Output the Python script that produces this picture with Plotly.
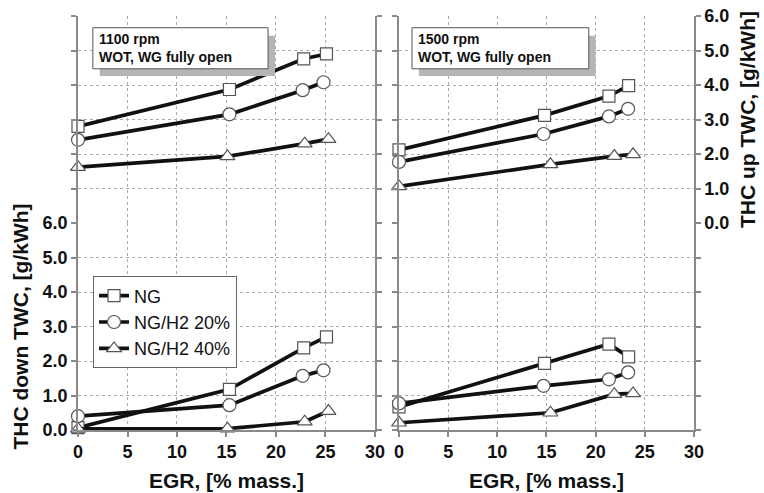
import plotly.graph_objects as go

# EGR rate [% mass.] per operating point and fuel
egr_1100_ng = [0, 15.3, 22.8, 25.1]
egr_1100_h2_20 = [0, 15.3, 22.7, 24.8]
egr_1100_h2_40 = [0, 15.1, 22.9, 25.3]
egr_1500_ng = [0, 14.8, 21.35, 23.35]
egr_1500_h2_20 = [0, 14.7, 21.35, 23.3]
egr_1500_h2_40 = [0, 15.4, 21.9, 23.8]

# THC upstream of the TWC [g/kWh]
thc_up_1100_ng = [2.8, 3.87, 4.76, 4.9]
thc_up_1100_h2_20 = [2.41, 3.15, 3.85, 4.08]
thc_up_1100_h2_40 = [1.62, 1.93, 2.3, 2.43]
thc_up_1500_ng = [2.12, 3.12, 3.68, 3.98]
thc_up_1500_h2_20 = [1.77, 2.58, 3.09, 3.31]
thc_up_1500_h2_40 = [1.06, 1.7, 1.94, 1.99]

# THC downstream of the TWC [g/kWh]
thc_down_1100_ng = [0.07, 1.18, 2.38, 2.7]
thc_down_1100_h2_20 = [0.4, 0.72, 1.57, 1.73]
thc_down_1100_h2_40 = [0.03, 0.04, 0.24, 0.55]
thc_down_1500_ng = [0.67, 1.93, 2.49, 2.12]
thc_down_1500_h2_20 = [0.77, 1.28, 1.47, 1.67]
thc_down_1500_h2_40 = [0.21, 0.5, 1.04, 1.06]

fuel_names = ["NG", "NG/H2 20%", "NG/H2 40%"]
x_ticks = [0, 5, 10, 15, 20, 25, 30]
y_ticks = [0, 1, 2, 3, 4, 5, 6]
panel_titles = ["1100 rpm<br>WOT, WG fully open", "1500 rpm<br>WOT, WG fully open"]

FONT = "Arial, Liberation Sans, sans-serif"
symbols = ["square", "circle", "triangle-up"]
sizes = [12, 13, 13]

panels = [
    # (xaxis id, yaxis id, egr lists, thc lists, show legend)
    ("x3", "y3", [egr_1100_ng, egr_1100_h2_20, egr_1100_h2_40],
     [thc_up_1100_ng, thc_up_1100_h2_20, thc_up_1100_h2_40], False),
    ("x4", "y4", [egr_1500_ng, egr_1500_h2_20, egr_1500_h2_40],
     [thc_up_1500_ng, thc_up_1500_h2_20, thc_up_1500_h2_40], False),
    ("x", "y", [egr_1100_ng, egr_1100_h2_20, egr_1100_h2_40],
     [thc_down_1100_ng, thc_down_1100_h2_20, thc_down_1100_h2_40], True),
    ("x2", "y2", [egr_1500_ng, egr_1500_h2_20, egr_1500_h2_40],
     [thc_down_1500_ng, thc_down_1500_h2_20, thc_down_1500_h2_40], False),
]

fig = go.Figure()
for xa, ya, xs, ys, show in panels:
    for i in range(3):
        fig.add_trace(go.Scatter(
            x=xs[i], y=ys[i], xaxis=xa, yaxis=ya,
            mode="lines+markers", name=fuel_names[i],
            legendgroup=fuel_names[i], showlegend=show,
            line=dict(color="#111111", width=3.7),
            marker=dict(symbol=symbols[i], size=sizes[i], color="white",
                        line=dict(color="#555555", width=1.2)),
            cliponaxis=False,
        ))

AX_COL = "#8a8a8a"
GRID_COL = "#ababab"
tick_font = dict(family=FONT, size=18, color="#111111", weight="bold")
title_font = dict(family=FONT, size=21, color="#111111", weight="bold")

xl = [0, 0.4821]
xr = [0.5211, 1]
yb = [0, 0.5]
yt = [0.5, 1]


def xaxis(domain, anchor, labels):
    d = dict(domain=domain, anchor=anchor, range=[0, 30], tickvals=x_ticks,
             showgrid=True, gridcolor=GRID_COL, griddash="dot", gridwidth=1,
             zeroline=False, showticklabels=labels, tickfont=tick_font,
             automargin=False)
    if labels:
        d.update(showline=True, linecolor=AX_COL, linewidth=1.5,
                 ticks="outside", ticklen=5, tickcolor=AX_COL, tickwidth=1.5,
                 title=dict(text="EGR, [% mass.]", font=title_font, standoff=12))
    else:
        d.update(showline=False, ticks="")
    return d


def yaxis(domain, anchor, side, labels, title=None, standoff=10):
    d = dict(domain=domain, anchor=anchor, range=[0, 6], tickvals=y_ticks,
             tickformat=".1f", side=side,
             showgrid=True, gridcolor=GRID_COL, griddash="dot", gridwidth=1,
             zeroline=False, showline=True, linecolor=AX_COL, linewidth=1.5,
             mirror="ticks", ticks="outside", ticklen=5, tickcolor=AX_COL,
             tickwidth=1.5, showticklabels=labels, tickfont=tick_font,
             automargin=False)
    if title:
        d["title"] = dict(text=title, font=title_font, standoff=standoff)
    return d


fig.update_layout(
    width=764, height=493,
    margin=dict(l=78, r=70, t=16, b=63),
    paper_bgcolor="white", plot_bgcolor="white",
    font=dict(family=FONT, color="#111111"),
    xaxis=xaxis(xl, "y", True),
    yaxis=yaxis(yb, "x", "left", True, "THC down TWC, [g/kWh]", 8),
    xaxis2=xaxis(xr, "y2", True),
    yaxis2=yaxis(yb, "x2", "left", False),
    xaxis3=xaxis(xl, "y3", False),
    yaxis3=yaxis(yt, "x3", "left", False),
    xaxis4=xaxis(xr, "y4", False),
    yaxis4=yaxis(yt, "x4", "right", True, "THC up TWC, [g/kWh]", 12),
    legend=dict(x=0.0244, y=0.371, xanchor="left", yanchor="top",
                bgcolor="white", bordercolor="#666666", borderwidth=1,
                font=dict(family=FONT, size=18, color="#111111"),
                itemwidth=30, tracegroupgap=0),
    showlegend=True,
)

# Condition boxes with drop shadow in the upper panels
boxes = [("x3", "y3", 1.5, 19.2, 1.92), ("x4", "y4", 1.32, 19.3, 1.73)]
for (xa, ya, x0, x1, tx), txt in zip(boxes, panel_titles):
    fig.add_shape(type="rect", xref=xa, yref=ya, x0=x0 + 0.7, x1=x1 + 0.7,
                  y0=4.26, y1=5.43, fillcolor="#b5b5b5", line=dict(width=0))
    fig.add_shape(type="rect", xref=xa, yref=ya, x0=x0, x1=x1,
                  y0=4.47, y1=5.66, fillcolor="white",
                  line=dict(color="#555555", width=1))
    fig.add_annotation(xref=xa, yref=ya, x=tx, y=5.065, text=txt,
                       showarrow=False, xanchor="left", yanchor="middle",
                       align="left",
                       font=dict(family=FONT, size=14, color="#111111",
                                 weight="bold"))

fig.write_html("out.html")
